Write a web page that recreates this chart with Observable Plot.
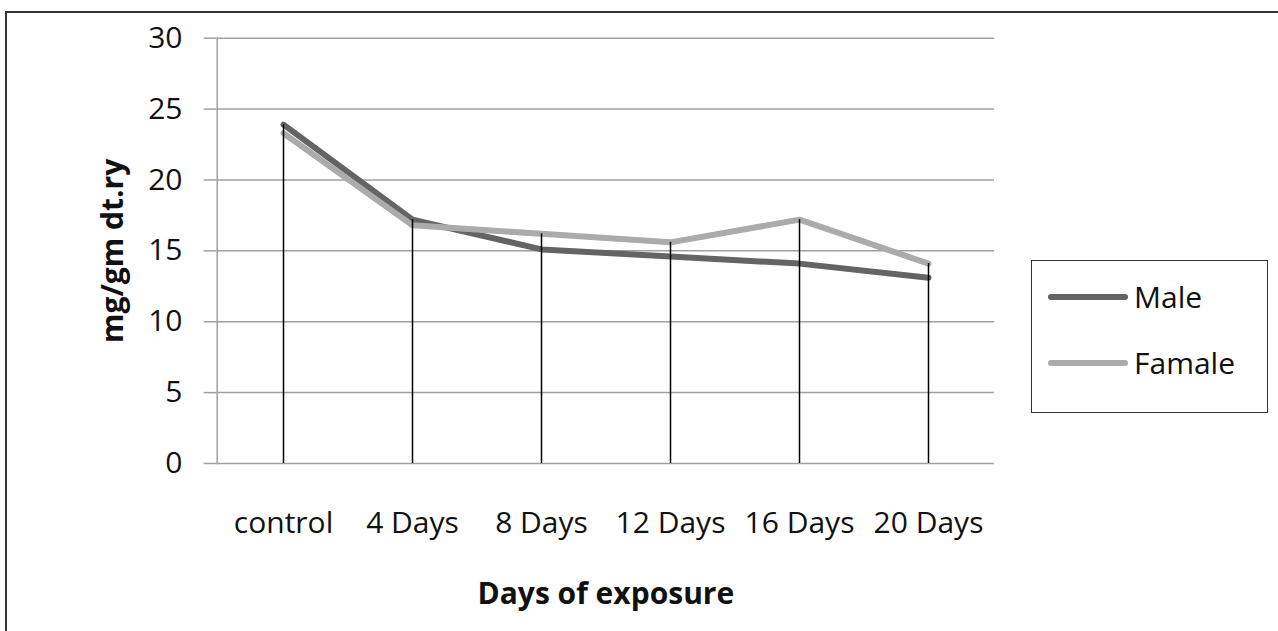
<!DOCTYPE html>
<html><head><meta charset="utf-8">
<script src="https://cdn.jsdelivr.net/npm/d3@7"></script>
<script src="https://cdn.jsdelivr.net/npm/@observablehq/plot@0.6"></script>
<style>
html,body{margin:0;padding:0;background:#fff;overflow:hidden;width:1278px;height:631px}
#wrap{position:relative;width:1278px;height:631px}
#wrap > svg.chart{position:absolute;left:0;top:0}
#frame{position:absolute;left:5px;top:11px;width:1400px;height:800px;border:2px solid #333;pointer-events:none}
#legend{position:absolute;left:1031px;top:260px;width:237px;height:153px;border:1.5px solid #333;box-sizing:border-box;background:#fff;font-family:"Open Sans";font-size:30px;color:#111}
.item{position:absolute;left:16px;height:40px;display:flex;flex-direction:row;align-items:center;white-space:nowrap}
.item svg{display:block;flex:none}
.item span{margin-left:6px;line-height:40px}
</style></head><body><div id="wrap"><div id="frame"></div></div>
<script>
const categories = ["control", "4 Days", "8 Days", "12 Days", "16 Days", "20 Days"];
const maleValues = [23.9, 17.2, 15.1, 14.6, 14.1, 13.1];
const femaleValues = [23.3, 16.8, 16.2, 15.6, 17.2, 14.1];
const seriesNames = ["Male", "Famale"];
const seriesColors = ["#646464", "#ababab"];
const yTicks = [0, 5, 10, 15, 20, 25, 30];
const xTitle = "Days of exposure";
const yTitle = "mg/gm dt.ry";

const seriesValues = [maleValues, femaleValues];
const rows = seriesNames.flatMap((s, k) => categories.map((c, i) => ({cat: c, series: s, v: seriesValues[k][i]})));
const drops = categories.map((c, i) => ({cat: c, top: Math.max(maleValues[i], femaleValues[i])}));

const chart = Plot.plot({
  width: 1278, height: 631,
  className: "chart",
  marginLeft: 216.7, marginRight: 284, marginTop: 37.7, marginBottom: 168,
  style: {background: "transparent", fontFamily: "Open Sans", fontSize: "30px", color: "#111", overflow: "visible"},
  x: {type: "point", domain: categories, padding: 0.5, label: null},
  y: {domain: [0, 30], label: null},
  color: {domain: seriesNames, range: seriesColors},
  marks: [
    Plot.gridY(yTicks, {stroke: "#a0a0a0", strokeOpacity: 1, strokeWidth: 1.5}),
    Plot.axisY(yTicks, {tickSize: 13, tickPadding: 21.7, stroke: "#a0a0a0", strokeWidth: 1.5, fill: "#111", fontSize: 30, label: null}),
    Plot.frame({anchor: "left", stroke: "#a0a0a0", strokeWidth: 1.5}),
    Plot.axisX({tickSize: 0, tickPadding: 48, fill: "#111", fontSize: 30, label: null}),
    Plot.line(rows, {x: "cat", y: "v", z: "series", stroke: "series", strokeWidth: 6, strokeLinejoin: "round", strokeLinecap: "round"}),
    Plot.ruleX(drops, {x: "cat", y1: 0, y2: "top", stroke: "#000", strokeWidth: 1.5}),
    Plot.text([yTitle], {frameAnchor: "left", textAnchor: "middle", lineAnchor: "middle", rotate: -90, dx: -104, fontWeight: "bold", fontSize: 30, fill: "#111"}),
    Plot.text([xTitle], {frameAnchor: "bottom", dy: 140, fontWeight: "bold", fontSize: 30, fill: "#111"})
  ]
});
const wrap = document.getElementById("wrap");
wrap.insertBefore(chart, wrap.firstChild);

const legend = document.createElement("div");
legend.id = "legend";
seriesNames.forEach((s, k) => {
  const item = document.createElement("div");
  item.className = "item";
  item.style.top = (16 + k * 66) + "px";
  item.innerHTML = `<svg width="80" height="10"><line x1="3" y1="5" x2="77" y2="5" stroke="${seriesColors[k]}" stroke-width="6" stroke-linecap="round"/></svg><span>${s}</span>`;
  legend.appendChild(item);
});
wrap.appendChild(legend);
</script>
</body></html>
